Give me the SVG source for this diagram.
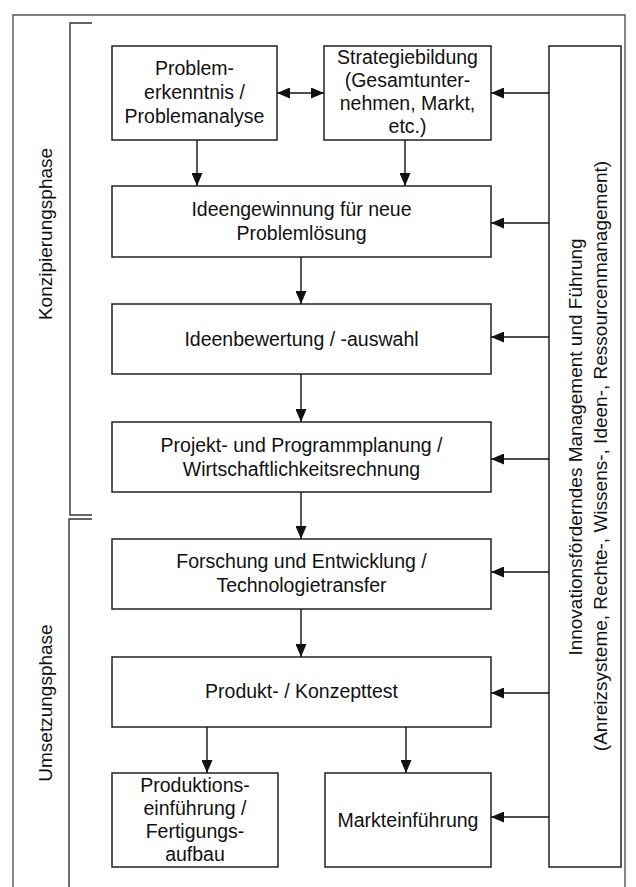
<svg xmlns="http://www.w3.org/2000/svg" width="636" height="887" viewBox="0 0 636 887">
<defs>
<marker id="ah" viewBox="0 0 13 11" refX="13" refY="5.5" markerWidth="13" markerHeight="11" markerUnits="userSpaceOnUse" orient="auto-start-reverse">
<path d="M0,0 L13,5.5 L0,11 z" fill="#111"/>
</marker>
<style>
.box{fill:#fff;stroke:#222;stroke-width:1.5}
.t{font-family:"Liberation Sans",Arial,sans-serif;font-size:19.5px;fill:#111;text-anchor:middle}
.v{font-size:19px}
.frame{fill:none;stroke:#555;stroke-width:1.4}
.br{fill:none;stroke:#333;stroke-width:1.4}
.c{fill:none;stroke:#111;stroke-width:1.4;marker-end:url(#ah)}
</style>
</defs>
<rect width="636" height="887" fill="#fff"/>
<path class="frame" d="M13,890 V15 H625 V890"/>
<g id="bracket-konzipierung">
<path class="br" d="M92,23 H70 V515 H92"/>
<text class="t v" transform="translate(52,234) rotate(-90)">Konzipierungsphase</text>
</g>
<g id="bracket-umsetzung">
<path class="br" d="M92,519 H69 V890"/>
<text class="t v" transform="translate(52,703) rotate(-90)">Umsetzungsphase</text>
</g>
<g id="n-problem">
<rect class="box" x="112" y="46" width="165" height="94"/>
<text class="t" x="194.5" y="75">Problem-</text>
<text class="t" x="194.5" y="99">erkenntnis /</text>
<text class="t" x="194.5" y="123">Problemanalyse</text>
</g>
<g id="n-strategie">
<rect class="box" x="324" y="46" width="167" height="94"/>
<text class="t" x="407.5" y="64">Strategiebildung</text>
<text class="t" x="407.5" y="87">(Gesamtunter-</text>
<text class="t" x="407.5" y="110">nehmen, Markt,</text>
<text class="t" x="407.5" y="133">etc.)</text>
</g>
<g id="n-ideengewinnung">
<rect class="box" x="112" y="186" width="379" height="71"/>
<text class="t" x="301.5" y="216">Ideengewinnung für neue</text>
<text class="t" x="301.5" y="240">Problemlösung</text>
</g>
<g id="n-ideenbewertung">
<rect class="box" x="112" y="304" width="379" height="70"/>
<text class="t" x="301.5" y="346">Ideenbewertung / -auswahl</text>
</g>
<g id="n-projekt">
<rect class="box" x="112" y="422" width="379" height="70"/>
<text class="t" x="301.5" y="452">Projekt- und Programmplanung /</text>
<text class="t" x="301.5" y="476">Wirtschaftlichkeitsrechnung</text>
</g>
<g id="n-forschung">
<rect class="box" x="112" y="539" width="379" height="70"/>
<text class="t" x="301.5" y="568">Forschung und Entwicklung /</text>
<text class="t" x="301.5" y="592">Technologietransfer</text>
</g>
<g id="n-produkttest">
<rect class="box" x="112" y="657" width="379" height="70"/>
<text class="t" x="301.5" y="698">Produkt- / Konzepttest</text>
</g>
<g id="n-produktion">
<rect class="box" x="112" y="773" width="166" height="94"/>
<text class="t" x="195" y="792">Produktions-</text>
<text class="t" x="195" y="815">einführung /</text>
<text class="t" x="195" y="838">Fertigungs-</text>
<text class="t" x="195" y="861">aufbau</text>
</g>
<g id="n-markt">
<rect class="box" x="325" y="773" width="166" height="94"/>
<text class="t" x="408" y="827">Markteinführung</text>
</g>
<g id="n-management">
<rect class="box" x="549" y="46" width="72" height="821"/>
<text class="t v" transform="translate(582,447) rotate(-90)">Innovationsförderndes Management und Führung</text>
<text class="t v" transform="translate(607,456) rotate(-90)">(Anreizsysteme, Rechte-, Wissens-, Ideen-, Ressourcenmanagement)</text>
</g>
<g id="connectors">
<path class="c" d="M277,93 H324" marker-start="url(#ah)"/>
<path class="c" d="M197,140 V186"/>
<path class="c" d="M405,140 V186"/>
<path class="c" d="M301,257 V304"/>
<path class="c" d="M301,374 V422"/>
<path class="c" d="M301,492 V539"/>
<path class="c" d="M301,609 V657"/>
<path class="c" d="M207,727 V773"/>
<path class="c" d="M406,727 V773"/>
<path class="c" d="M549,93 H491"/>
<path class="c" d="M549,223 H491"/>
<path class="c" d="M549,337 H491"/>
<path class="c" d="M549,459 H491"/>
<path class="c" d="M549,572 H491"/>
<path class="c" d="M549,693 H491"/>
<path class="c" d="M549,817 H491"/>
</g>
</svg>
